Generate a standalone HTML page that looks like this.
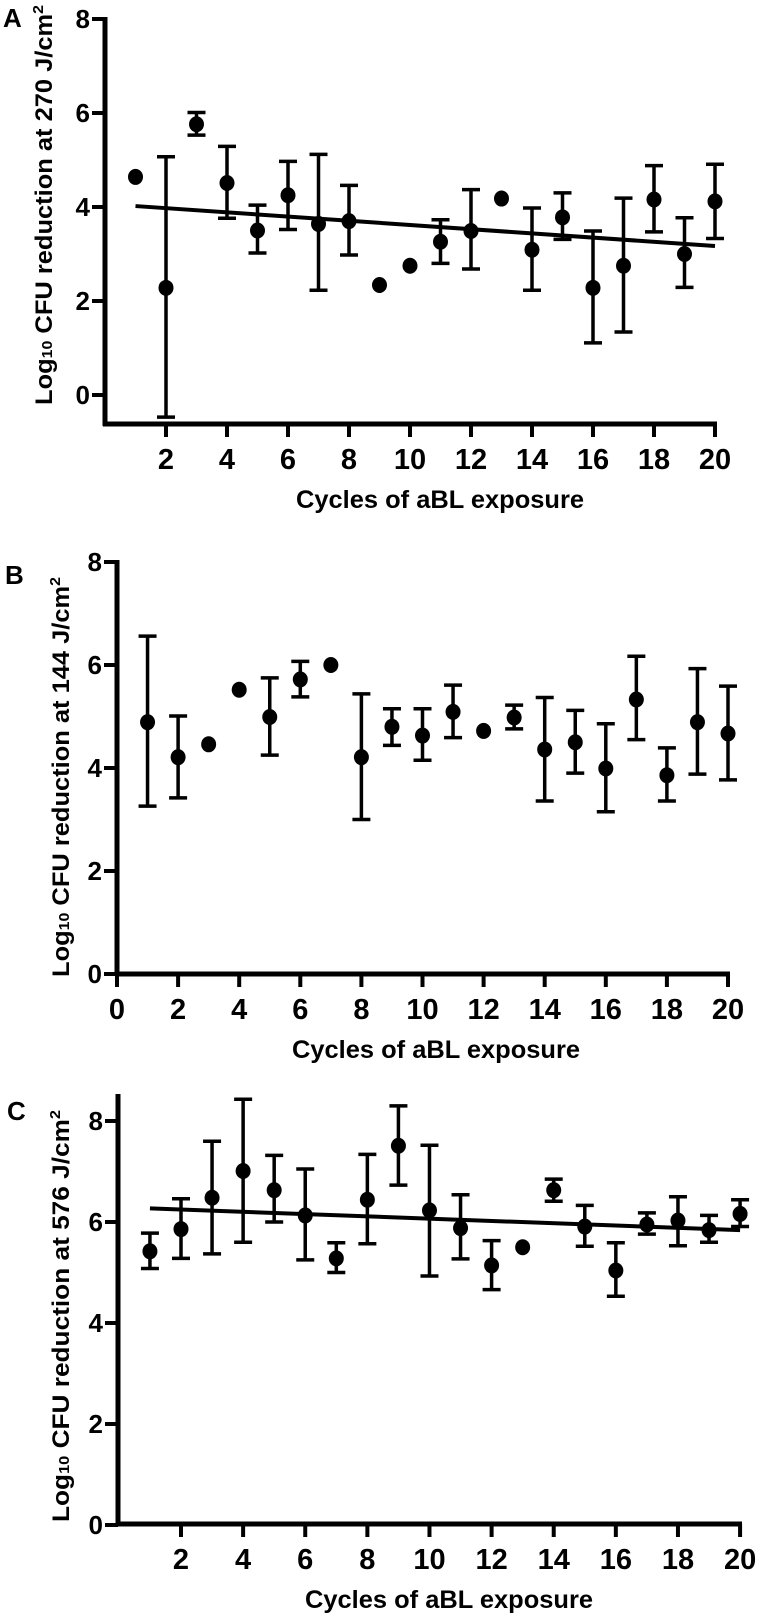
<!DOCTYPE html>
<html><head><meta charset="utf-8"><style>
html,body{margin:0;padding:0;background:#fff;}
svg{display:block;}
text{font-family:"Liberation Sans",sans-serif;font-weight:bold;fill:#000;}
</style></head><body>
<svg id="fig" width="764" height="1619" viewBox="0 0 764 1619" xmlns="http://www.w3.org/2000/svg"></svg>
<script>
const cycles = [1,2,3,4,5,6,7,8,9,10,11,12,13,14,15,16,17,18,19,20];
const meanA = [4.64,2.28,5.76,4.51,3.50,4.25,3.64,3.70,2.34,2.75,3.26,3.49,4.18,3.09,3.78,2.28,2.75,4.16,3.00,4.12];
const lowA  = [null,-0.47,5.53,3.76,3.02,3.52,2.23,2.98,null,null,2.80,2.68,null,2.23,3.31,1.11,1.34,3.47,2.29,3.33];
const highA = [null,5.07,6.01,5.29,4.04,4.97,5.12,4.46,null,null,3.73,4.37,null,3.98,4.30,3.49,4.19,4.88,3.77,4.91];
const fitA = [4.02,3.17];
const meanB = [4.89,4.21,4.46,5.52,4.99,5.72,6.00,4.21,4.80,4.63,5.09,4.72,4.98,4.36,4.50,3.99,5.33,3.86,4.89,4.67];
const lowB  = [3.26,3.42,null,null,4.25,5.38,null,3.00,4.44,4.15,4.59,null,4.76,3.36,3.90,3.15,4.55,3.36,3.88,3.77];
const highB = [6.56,5.01,null,null,5.75,6.07,null,5.44,5.15,5.15,5.61,null,5.22,5.37,5.12,4.86,6.17,4.39,5.93,5.59];
const meanC = [5.42,5.86,6.48,7.01,6.63,6.13,5.28,6.44,7.51,6.23,5.88,5.14,5.50,6.63,5.91,5.04,5.95,6.03,5.84,6.16];
const lowC  = [5.08,5.28,5.37,5.60,6.00,5.25,5.00,5.57,6.73,4.93,5.27,4.66,null,6.41,5.52,4.53,5.76,5.53,5.60,5.91];
const highC = [5.78,6.46,7.60,8.43,7.32,7.05,5.59,7.34,8.30,7.52,6.54,5.63,null,6.85,6.33,5.59,6.18,6.50,6.13,6.44];
const fitC = [6.27,5.84];
const yTicks = [0,2,4,6,8];
const xTicksA = [2,4,6,8,10,12,14,16,18,20];
const xTicksB = [0,2,4,6,8,10,12,14,16,18,20];

const NS = "http://www.w3.org/2000/svg";
const svg = document.getElementById('fig');
function mk(tag, attrs, parent){
  const e = document.createElementNS(NS, tag);
  for (const k in attrs) e.setAttribute(k, attrs[k]);
  (parent||svg).appendChild(e);
  return e;
}

function panel(p){
  const g = mk('g', {});
  
  
  const X = v => p.x0 + (v - p.xv0) * p.xs;
  const Y = v => p.y0 - v * p.ys;
  // panel letter
  const L = mk('text', {x:p.lx, y:p.ly, 'font-size':26}, g);
  L.textContent = p.id;
  
  
  // y axis
  const ya = mk('line', {x1:p.ax, y1:p.ytop, x2:p.ax, y2:p.axisY+2, stroke:'#000','stroke-width':5}, g);
  
  
  // x axis
  const xa = mk('line', {x1:p.ax-2, y1:p.axisY, x2:p.xend+2, y2:p.axisY, stroke:'#000','stroke-width':5}, g);
  
  
  yTicks.forEach(t => {
    const tk = mk('line', {x1:p.ax-13, y1:Y(t), x2:p.ax, y2:Y(t), stroke:'#000','stroke-width':4}, g);
    
    
    const tl = mk('text', {x:p.ax-15, y:Y(t)+9, 'font-size':26, 'text-anchor':'end'}, g);
    tl.textContent = t;
    
    
  });
  p.xticks.forEach(t => {
    const tk = mk('line', {x1:X(t), y1:p.axisY, x2:X(t), y2:p.axisY+13, stroke:'#000','stroke-width':4}, g);
    
    
    const tl = mk('text', {x:X(t), y:p.axisY+45, 'font-size':29, 'text-anchor':'middle'}, g);
    tl.textContent = t;
    
    
  });
  // x title
  const xt = mk('text', {x:p.xtx, y:p.axisY+84, 'font-size':25, 'text-anchor':'middle', textLength:288, lengthAdjust:'spacingAndGlyphs'}, g);
  xt.textContent = 'Cycles of aBL exposure';
  
  
  // y title
  const yt = mk('text', {x:0, y:0, 'font-size':24, 'text-anchor':'middle', textLength:p.ytl, lengthAdjust:'spacingAndGlyphs', transform:`translate(${p.ytx},${p.ytc}) rotate(-90)`}, g);
  yt.innerHTML = 'Log<tspan font-size="15">10</tspan> CFU reduction at ' + p.dose + ' J/cm<tspan font-size="15" dy="-9">2</tspan>';
  
  
  // fit
  if (p.fit){
    const fl = mk('line', {x1:X(cycles[0]), y1:Y(p.fit[0]), x2:X(cycles[cycles.length-1]), y2:Y(p.fit[1]), stroke:'#000','stroke-width':4}, g);
    
    
  }
  cycles.forEach((c, i) => {
    const cx = X(c);
    if (p.low[i] !== null){
      const eb = mk('path', {d:`M${cx},${Y(p.low[i])}V${Y(p.high[i])}M${cx-9},${Y(p.low[i])}H${cx+9}M${cx-9},${Y(p.high[i])}H${cx+9}`, stroke:'#000','stroke-width':3.5, fill:'none'}, g);
      
      
    }
    const d = mk('ellipse', {cx:cx, cy:Y(p.mean[i]), rx:7.5, ry:8, fill:'#000'}, g);
    
    
  });
}

panel({id:'A', lx:3, ly:27, x0:166, xv0:2, xs:30.5, y0:395, ys:47, ax:105, ytop:17, axisY:424, xend:715,
  xticks:xTicksA, xtx:440, ytx:52, ytc:205, ytl:400, dose:'270', mean:meanA, low:lowA, high:highA, fit:fitA});
panel({id:'B', lx:5, ly:584, x0:117, xv0:0, xs:30.55, y0:974, ys:51.5, ax:117, ytop:560, axisY:974, xend:728,
  xticks:xTicksB, xtx:436, ytx:69, ytc:777, ytl:400, dose:'144', mean:meanB, low:lowB, high:highB, fit:null});
panel({id:'C', lx:7, ly:1120, x0:181, xv0:2, xs:31.06, y0:1525, ys:50.5, ax:118, ytop:1094, axisY:1524, xend:740,
  xticks:xTicksA, xtx:449, ytx:69, ytc:1316, ytl:412, dose:'576', mean:meanC, low:lowC, high:highC, fit:fitC});
</script>
</body></html>
